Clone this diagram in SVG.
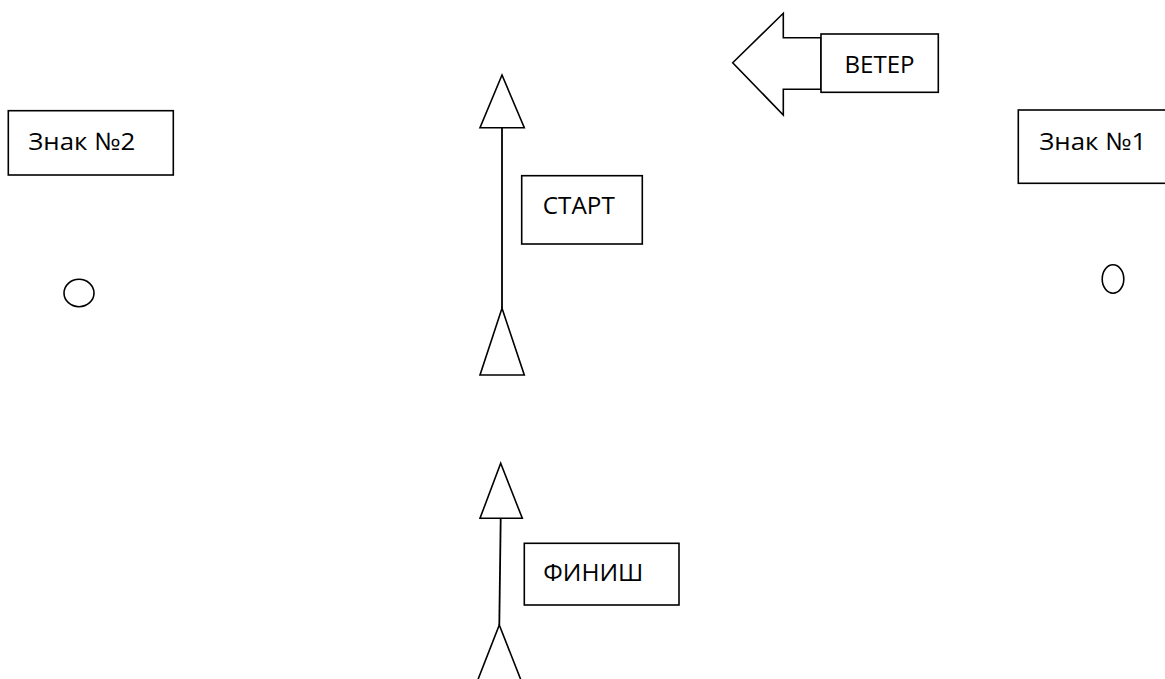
<svg xmlns="http://www.w3.org/2000/svg" width="1165" height="679" viewBox="0 0 1165 679">
<style>
.s{fill:#fff;stroke:#000;stroke-width:1.6;stroke-linejoin:miter}
.l{fill:none;stroke:#000;stroke-width:1.8}
.t{font-family:"Open Sans","Liberation Sans",sans-serif;font-size:24px;fill:#000}
</style>
<rect width="1165" height="679" fill="#fff"/>
<g id="connectors">
<line class="l" x1="502" y1="127.7" x2="502" y2="308.3"/>
<line class="l" x1="500.7" y1="518.3" x2="499.3" y2="625"/>
</g>
<g id="wind">
<path class="s" d="M732.7,62.7 L783.3,13.3 L783.3,37.7 L821,37.7 L821,89.3 L783.3,89.3 L783.3,115 Z"/>
<rect class="s" x="821" y="34" width="117.3" height="58.3"/>
<text class="t" x="879.5" y="72.7" text-anchor="middle" textLength="70" lengthAdjust="spacingAndGlyphs">ВЕТЕР</text>
</g>
<g id="sign2">
<rect class="s" x="8.3" y="110.7" width="165" height="64.3"/>
<text class="t" x="28.3" y="149.5" textLength="107" lengthAdjust="spacingAndGlyphs">Знак №2</text>
</g>
<g id="sign1">
<rect class="s" x="1018.3" y="110" width="160" height="73.3"/>
<text class="t" x="1039.3" y="149.5" textLength="107" lengthAdjust="spacingAndGlyphs">Знак №1</text>
</g>
<g id="buoy2"><ellipse class="s" cx="79" cy="293" rx="15" ry="13.7"/></g>
<g id="buoy1"><ellipse class="s" cx="1113" cy="279" rx="10.8" ry="14.2"/></g>
<g id="start">
<polygon class="s" points="502,75 524.3,127.7 480,127.7"/>
<polygon class="s" points="502,308.3 524.3,375 480,375"/>
<rect class="s" x="521.7" y="175.7" width="120.6" height="68.3"/>
<text class="t" x="578.8" y="213.5" text-anchor="middle" textLength="72" lengthAdjust="spacingAndGlyphs">СТАРТ</text>
</g>
<g id="finish">
<polygon class="s" points="500.7,463.3 522.3,518.3 480,518.3"/>
<polygon class="s" points="499.3,625 521.7,682 477,682"/>
<rect class="s" x="524.3" y="543.3" width="154.7" height="61.7"/>
<text class="t" x="593.3" y="580.8" text-anchor="middle" textLength="100" lengthAdjust="spacingAndGlyphs">ФИНИШ</text>
</g>
</svg>
